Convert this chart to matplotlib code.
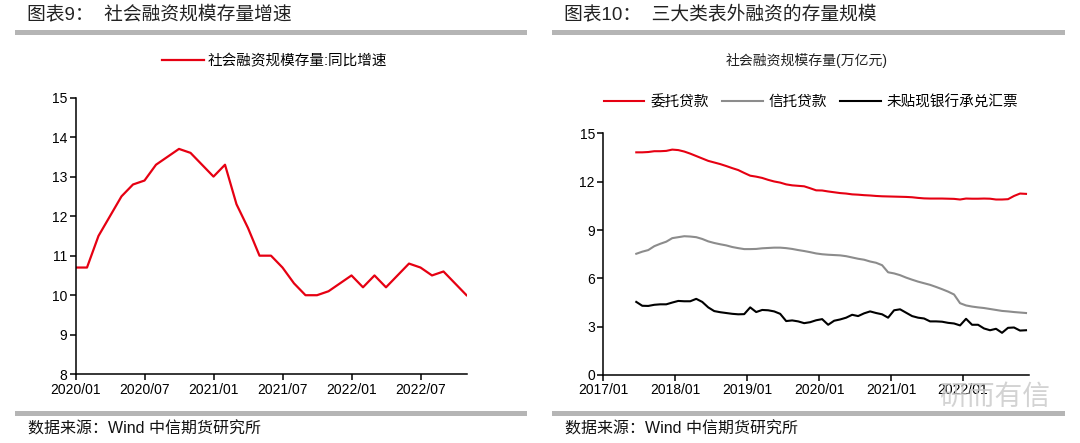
import numpy as np
import matplotlib.pyplot as plt
from matplotlib.patches import Rectangle

plt.rcParams['font.family'] = ['Liberation Sans', 'Noto Sans CJK SC', 'DejaVu Sans']
plt.rcParams['axes.unicode_minus'] = False

# ---- data: left chart (monthly, 2020/01 - 2022/11) ----
tsf_growth = [10.7, 10.7, 11.5, 12.0, 12.5, 12.8, 12.9, 13.3, 13.5, 13.7, 13.6, 13.3,
              13.0, 13.3, 12.3, 11.7, 11.0, 11.0, 10.7, 10.3, 10.0, 10.0, 10.1, 10.3,
              10.5, 10.2, 10.5, 10.2, 10.5, 10.8, 10.7, 10.5, 10.6, 10.3, 10.0]
left_ticks = ['2020/01', '2020/07', '2021/01', '2021/07', '2022/01', '2022/07']

# ---- data: right chart (monthly, 2017/06 - 2022/11), 万亿元 ----
entrusted = [13.83, 13.83, 13.85, 13.90, 13.90, 13.92, 14.00, 13.97, 13.88, 13.75,
             13.60, 13.45, 13.30, 13.20, 13.10, 12.98, 12.85, 12.73, 12.55, 12.38,
             12.32, 12.24, 12.12, 12.02, 11.95, 11.84, 11.78, 11.75, 11.72, 11.60,
             11.47, 11.46, 11.40, 11.35, 11.30, 11.27, 11.22, 11.20, 11.17, 11.15,
             11.12, 11.10, 11.09, 11.08, 11.07, 11.06, 11.04, 11.00, 10.97, 10.96,
             10.96, 10.96, 10.95, 10.94, 10.90, 10.96, 10.95, 10.95, 10.96, 10.95,
             10.90, 10.90, 10.92, 11.12, 11.27, 11.25]
trust = [7.53, 7.66, 7.76, 8.00, 8.15, 8.28, 8.50, 8.56, 8.62, 8.60,
         8.56, 8.45, 8.30, 8.20, 8.12, 8.05, 7.95, 7.88, 7.82, 7.82,
         7.83, 7.87, 7.89, 7.91, 7.91, 7.88, 7.83, 7.76, 7.70, 7.63,
         7.55, 7.50, 7.47, 7.45, 7.43, 7.38, 7.30, 7.22, 7.16, 7.05,
         6.97, 6.82, 6.38, 6.31, 6.20, 6.05, 5.92, 5.80, 5.70, 5.60,
         5.47, 5.33, 5.18, 5.00, 4.46, 4.32, 4.25, 4.20, 4.16, 4.10,
         4.04, 3.98, 3.95, 3.91, 3.88, 3.85]
bills = [4.54, 4.30, 4.29, 4.36, 4.39, 4.39, 4.50, 4.60, 4.58, 4.58,
         4.73, 4.54, 4.20, 3.97, 3.90, 3.85, 3.80, 3.77, 3.78, 4.20,
         3.91, 4.04, 4.02, 3.95, 3.80, 3.35, 3.39, 3.33, 3.22, 3.28,
         3.40, 3.47, 3.12, 3.37, 3.45, 3.56, 3.74, 3.66, 3.83, 3.95,
         3.85, 3.77, 3.56, 4.02, 4.08, 3.87, 3.66, 3.56, 3.51, 3.33,
         3.33, 3.31, 3.24, 3.20, 3.08, 3.49, 3.12, 3.12, 2.89, 2.78,
         2.87, 2.62, 2.93, 2.95, 2.76, 2.78]
right_ticks = ['2017/01', '2018/01', '2019/01', '2020/01', '2021/01', '2022/01']
right_labels = ['委托贷款', '信托贷款', '未贴现银行承兑汇票']

RED = '#e60012'
GRAY = '#8c8c8c'
BAR = '#b5b5b5'

W, H = 1080, 443
fig = plt.figure(figsize=(10.8, 4.43), dpi=100)


def px(x0, y0, x1, y1):
    # pixel box -> figure fraction [left, bottom, width, height]
    return [x0 / W, 1 - y1 / H, (x1 - x0) / W, (y1 - y0) / H]


def style_axis(ax):
    for s in ['top', 'right']:
        ax.spines[s].set_visible(False)
    for s in ['left', 'bottom']:
        ax.spines[s].set_linewidth(1.1)
        ax.spines[s].set_color('black')
    ax.tick_params(direction='out', length=4, width=1.1, labelsize=10,
                   colors='black', pad=2)
    ax.set_facecolor('white')


# header / footer bars
for x0, x1 in [(15, 527), (552, 1065)]:
    for yc in [32.5, 413]:
        fig.add_artist(Rectangle((x0 / W, 1 - (yc + 2.5) / H), (x1 - x0) / W, 5 / H,
                                 transform=fig.transFigure, color=BAR, lw=0))

fig.text(27 / W, 1 - 14 / H, '图表9：  社会融资规模存量增速', fontsize=13.5,
         va='center', ha='left', color='#222222')
fig.text(564 / W, 1 - 14 / H, '图表10：  三大类表外融资的存量规模', fontsize=13.5,
         va='center', ha='left', color='#222222')
fig.text(28 / W, 1 - 429 / H, '数据来源：Wind 中信期货研究所', fontsize=11.5,
         va='center', ha='left', color='#111111')
fig.text(565 / W, 1 - 429 / H, '数据来源：Wind 中信期货研究所', fontsize=11.5,
         va='center', ha='left', color='#111111')

# ---- left chart ----
ax1 = fig.add_axes(px(75.5, 97.5, 466.5, 374.3))
x1 = np.arange(len(tsf_growth))
ax1.plot(x1, tsf_growth, color=RED, lw=1.6, label='社会融资规模存量:同比增速')
ax1.set_xlim(0, len(tsf_growth) - 1)
ax1.set_ylim(8, 15)
ax1.set_yticks(range(8, 16))
ax1.set_xticks(np.arange(0, 6 * len(left_ticks), 6))
ax1.set_xticklabels(left_ticks)
style_axis(ax1)
ax1.legend(loc='center', bbox_to_anchor=(274.5 / W, 1 - 61 / H),
           bbox_transform=fig.transFigure, frameon=False, fontsize=10.5,
           handlelength=2.9, handletextpad=0.25, borderaxespad=0)

# ---- right chart ----
ax2 = fig.add_axes(px(603.3, 133.5, 1029, 375))
x2 = np.arange(len(entrusted)) + 5.5
ax2.plot(x2, entrusted, color=RED, lw=1.5, label=right_labels[0])
ax2.plot(x2, trust, color=GRAY, lw=1.5, label=right_labels[1])
ax2.plot(x2, bills, color='black', lw=1.5, label=right_labels[2])
ax2.set_xlim(0, 71)
ax2.set_ylim(0, 15)
ax2.set_yticks(range(0, 16, 3))
ax2.set_xticks(np.arange(0, 12 * len(right_ticks), 12))
ax2.set_xticklabels(right_ticks)
style_axis(ax2)
ax2.legend(loc='center', bbox_to_anchor=(811 / W, 1 - 102 / H),
           bbox_transform=fig.transFigure, frameon=False, fontsize=10.5, ncol=3,
           handlelength=2.8, handletextpad=0.4, columnspacing=0.9, borderaxespad=0)
fig.text(807 / W, 1 - 61 / H, '社会融资规模存量(万亿元)', fontsize=10,
         ha='center', va='center', color='#222222')

# watermark
fig.text(995 / W, 1 - 398 / H, '研而有信', fontsize=20, ha='center', va='center',
         color='#c8c8c8', alpha=0.8)

fig.savefig('out.png', dpi=100, facecolor='white')
